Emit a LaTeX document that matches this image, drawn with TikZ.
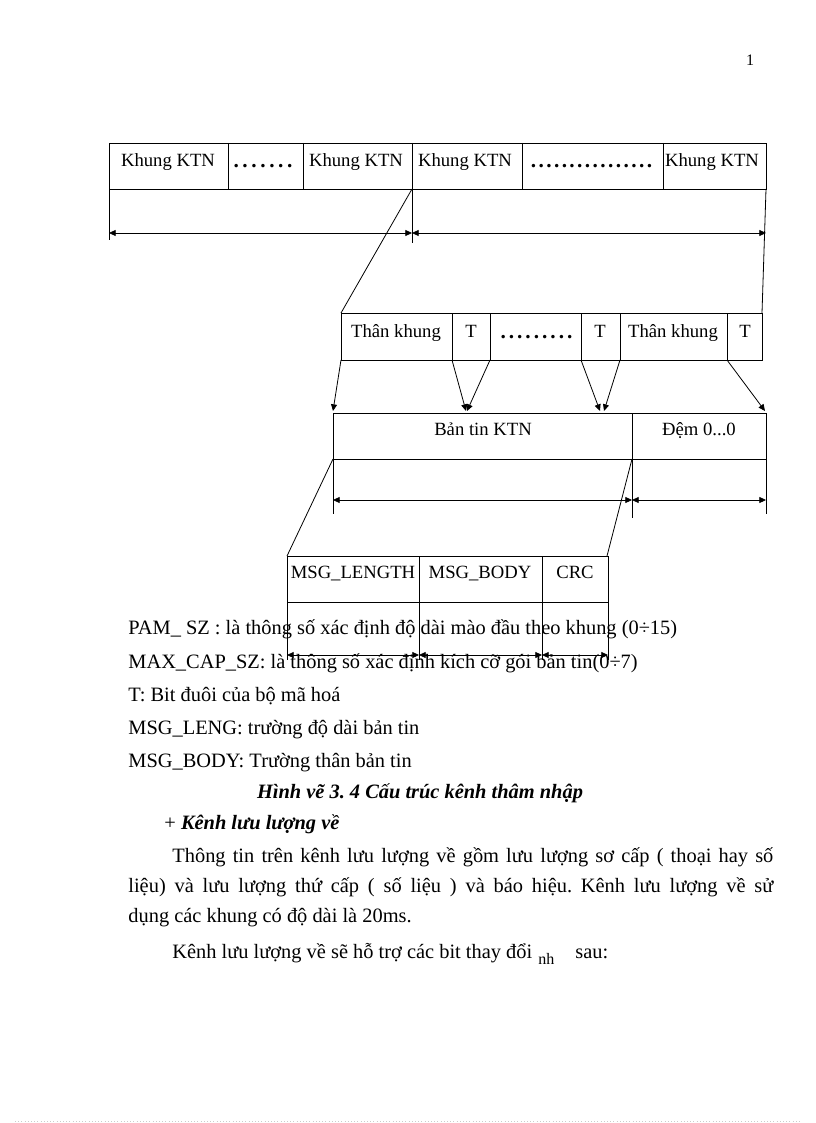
\documentclass[tikz,border=0pt]{standalone}
\usepackage{fontspec}
\setmainfont{Liberation Serif}
\usetikzlibrary{arrows.meta}
\frenchspacing
\begin{document}
\begin{tikzpicture}[x=0.75pt,y=-0.75pt,line width=0.6pt,
  lbl/.style={font=\fontsize{14}{16}\selectfont,anchor=base,inner sep=0pt},
  dotlbl/.style={font=\fontsize{16}{16}\selectfont\bfseries,anchor=base,inner sep=0pt},
  bodytxt/.style={font=\fontsize{15.3}{18}\selectfont,anchor=base west,inner sep=0pt},
  captxt/.style={font=\fontsize{15.3}{18}\selectfont\bfseries\itshape,anchor=base,inner sep=0pt},
  dimarr/.style={{Triangle[length=5pt,width=4.5pt]}-{Triangle[length=5pt,width=4.5pt]}},
  ptr/.style={-{Triangle[length=5pt,width=4.5pt]}}]
\useasboundingbox (0,0) rectangle (816,1123);
% page number
\node[font=\fontsize{12}{14}\selectfont,anchor=base,inner sep=0pt] (pg) at (750,66) {1};
% ---------- top row ----------
\coordinate (A0) at (109,143); \coordinate (A6) at (766,189);
\draw (A0) rectangle (A6);
\foreach \x in {228,303,412,522,663} \draw (\x,143) -- (\x,189);
\coordinate (AL) at (109,189); \coordinate (ALb) at (109,240);
\coordinate (AM) at (412,189); \coordinate (AMb) at (412,243);
\draw (AL) -- (ALb); \draw (AM) -- (AMb);
\coordinate (d1l) at (109,233); \coordinate (d1m) at (412,233); \coordinate (d1r) at (766,233);
\draw[dimarr] (d1l) -- (d1m); \draw[dimarr] (d1m) -- (d1r);
\node[lbl] (k1) at (168,167) {Khung KTN};
\node[dotlbl] (k2) at (263,168) {.\kern2.7pt.\kern2.7pt.\kern2.7pt.\kern2.7pt.\kern2.7pt.\kern2.7pt.};
\node[lbl] (k3) at (356,167) {Khung KTN};
\node[lbl] (k4) at (465,167) {Khung KTN};
\node[dotlbl] (k5) at (591.5,168) {.\kern1.8pt.\kern1.8pt.\kern1.8pt.\kern1.8pt.\kern1.8pt.\kern1.8pt.\kern1.8pt.\kern1.8pt.\kern1.8pt.\kern1.8pt.\kern1.8pt.\kern1.8pt.\kern1.8pt.\kern1.8pt.\kern1.8pt.};
\node[lbl] (k6) at (712,167) {Khung KTN};
% ---------- second row ----------
\coordinate (B0) at (341,313); \coordinate (B6) at (762,360);
\draw (B0) rectangle (B6);
\foreach \x in {452,490,581,620,727} \draw (\x,313) -- (\x,360);
\draw (AM) -- (B0);
\draw (A6) -- (762,313);
\node[lbl] (t1) at (396,337) {Thân khung};
\node[lbl] (t2) at (471,337) {T};
\node[dotlbl] (t3) at (536.5,338) {.\kern2.25pt.\kern2.25pt.\kern2.25pt.\kern2.25pt.\kern2.25pt.\kern2.25pt.\kern2.25pt.\kern2.25pt.};
\node[lbl] (t4) at (600,337) {T};
\node[lbl] (t5) at (673,337) {Thân khung};
\node[lbl] (t6) at (745,337) {T};
% ---------- third row ----------
\coordinate (C0) at (333,413); \coordinate (C2) at (766,459);
\draw (C0) rectangle (C2);
\coordinate (CM) at (632,459); \coordinate (CL) at (333,459);
\draw (632,413) -- (632,518);
\draw (CL) -- (333,514); \draw (C2) -- (766,514);
\draw[dimarr] (333,500) -- (632,500); \draw[dimarr] (632,500) -- (766,500);
\node[lbl] (b1) at (483,435) {Bản tin KTN};
\node[lbl] (b2) at (699,435) {Đệm 0...0};
% arrows from second row
\draw[ptr] (341,360) -- (333,411);
\draw[ptr] (452,360) -- (466,411);
\draw[ptr] (490,360) -- (467,411);
\draw[ptr] (581,360) -- (600,411);
\draw[ptr] (620,360) -- (604,411);
\draw[ptr] (727,360) -- (765,411);
% ---------- bottom box ----------
\coordinate (D0) at (287,556); \coordinate (D3) at (608,602);
\draw (D0) rectangle (D3);
\draw (419,556) -- (419,660); \draw (542,556) -- (542,660);
\draw (287,602) -- (287,660); \draw (608,602) -- (608,660);
\draw (CL) -- (D0); \draw (CM) -- (607,556);
\draw[dimarr] (287,655) -- (419,655); \draw[dimarr] (419,655) -- (542,655); \draw[dimarr] (542,655) -- (608,655);
\node[lbl] (m1) at (353,578) {MSG\_LENGTH};
\node[lbl] (m2) at (480,578) {MSG\_BODY};
\node[lbl] (m3) at (575,578) {CRC};
% ---------- text ----------
\node[bodytxt] (l1) at (128,634) {PAM\_ SZ : là thông số xác định độ dài mào đầu theo khung (0÷15)};
\node[bodytxt] (l2) at (128,668) {MAX\_CAP\_SZ: là thông số xác định kích cỡ gói bản tin(0÷7)};
\node[bodytxt] (l3) at (128,701) {T: Bit đuôi của bộ mã hoá};
\node[bodytxt] (l4) at (128,734) {MSG\_LENG: trường độ dài bản tin};
\node[bodytxt] (l5) at (128,767) {MSG\_BODY: Trường thân bản tin};
\node[captxt] (c1) at (420,798) {Hình vẽ 3. 4 Cấu trúc kênh thâm nhập};
\node[bodytxt] (c2) at (164,829) {+ \textbf{\itshape Kênh lưu lượng về}};
\node[bodytxt] (p1) at (172,862) {\makebox[450.75pt][s]{Thông tin trên kênh lưu lượng về gồm lưu lượng sơ cấp ( thoại hay số}};
\node[bodytxt] (p2) at (128,892) {\makebox[483.75pt][s]{liệu) và lưu lượng thứ cấp ( số liệu ) và báo hiệu. Kênh lưu lượng về sử}};
\node[bodytxt] (p3) at (128,922) {dụng các khung có độ dài là 20ms.};
\node[bodytxt] (p4) at (172,958) {Kênh lưu lượng về sẽ hỗ trợ các bit thay đổi};
\node[bodytxt,font=\fontsize{12}{14}\selectfont] (p5) at (538,964) {nh};
\node[bodytxt] (p6) at (575,958) {sau:};
% faint bottom rule
\draw[gray!40,line width=0.4pt,dotted] (15,1121) -- (800,1121);
\end{tikzpicture}
\end{document}
